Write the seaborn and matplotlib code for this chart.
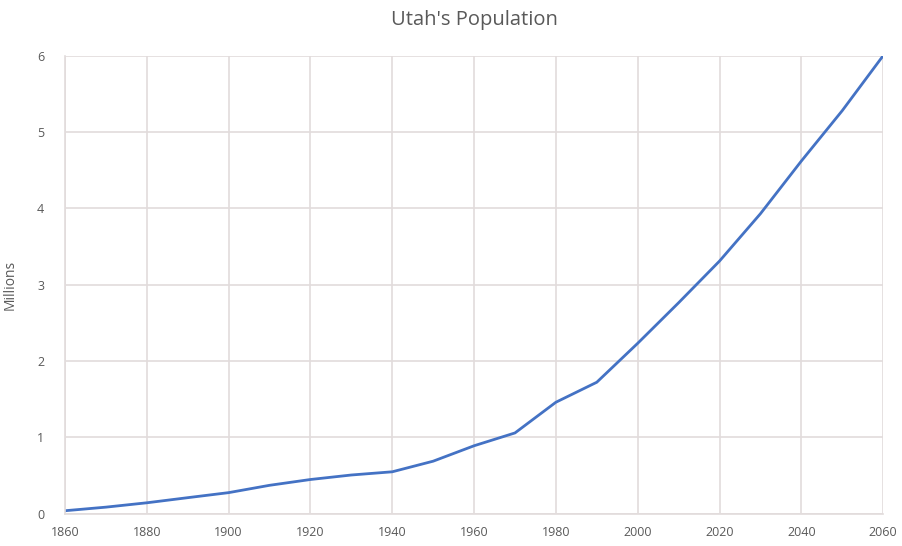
import pandas as pd
import matplotlib.pyplot as plt
import seaborn as sns

# Utah population by decade (millions), projections from 2020 on
years = [1860, 1870, 1880, 1890, 1900, 1910, 1920, 1930, 1940, 1950,
         1960, 1970, 1980, 1990, 2000, 2010, 2020, 2030, 2040, 2050, 2060]
population = [0.040, 0.087, 0.144, 0.211, 0.277, 0.373, 0.449, 0.508, 0.550, 0.689,
              0.891, 1.059, 1.461, 1.723, 2.233, 2.764, 3.31, 3.93, 4.62, 5.28, 6.0]
x_ticks = list(range(1860, 2061, 20))
y_ticks = [0, 1, 2, 3, 4, 5, 6]

df = pd.DataFrame({'Year': years, 'Millions': population})

sns.set_theme(style='whitegrid')
plt.rcParams['font.family'] = ['Open Sans', 'DejaVu Sans']

fig = plt.figure(figsize=(9.03, 5.46), dpi=100)
ax = fig.add_axes([0.072, 0.059, 0.906, 0.839])

sns.lineplot(data=df, x='Year', y='Millions', ax=ax, color='#4472C4', linewidth=2)

ax.set_xlim(1860, 2060)
ax.set_ylim(0, 6)
ax.set_xticks(x_ticks)
ax.set_yticks(y_ticks)
ax.grid(True, color='#e2dcdc', linewidth=1.2)
for side in ['top', 'right']:
    ax.spines[side].set_visible(False)
for side in ['left', 'bottom']:
    ax.spines[side].set_color('#e2dcdc')
    ax.spines[side].set_linewidth(1.2)
ax.tick_params(axis='both', length=0, labelsize=9, colors='#595959')
ax.tick_params(axis='y', pad=15)
ax.tick_params(axis='x', pad=9)

ax.set_xlabel('')
ax.set_ylabel('Millions', fontsize=10, color='#595959', labelpad=14)
ax.set_title("Utah's Population", fontsize=14.5, color='#595959', pad=22)

fig.savefig('out.png', dpi=100)
